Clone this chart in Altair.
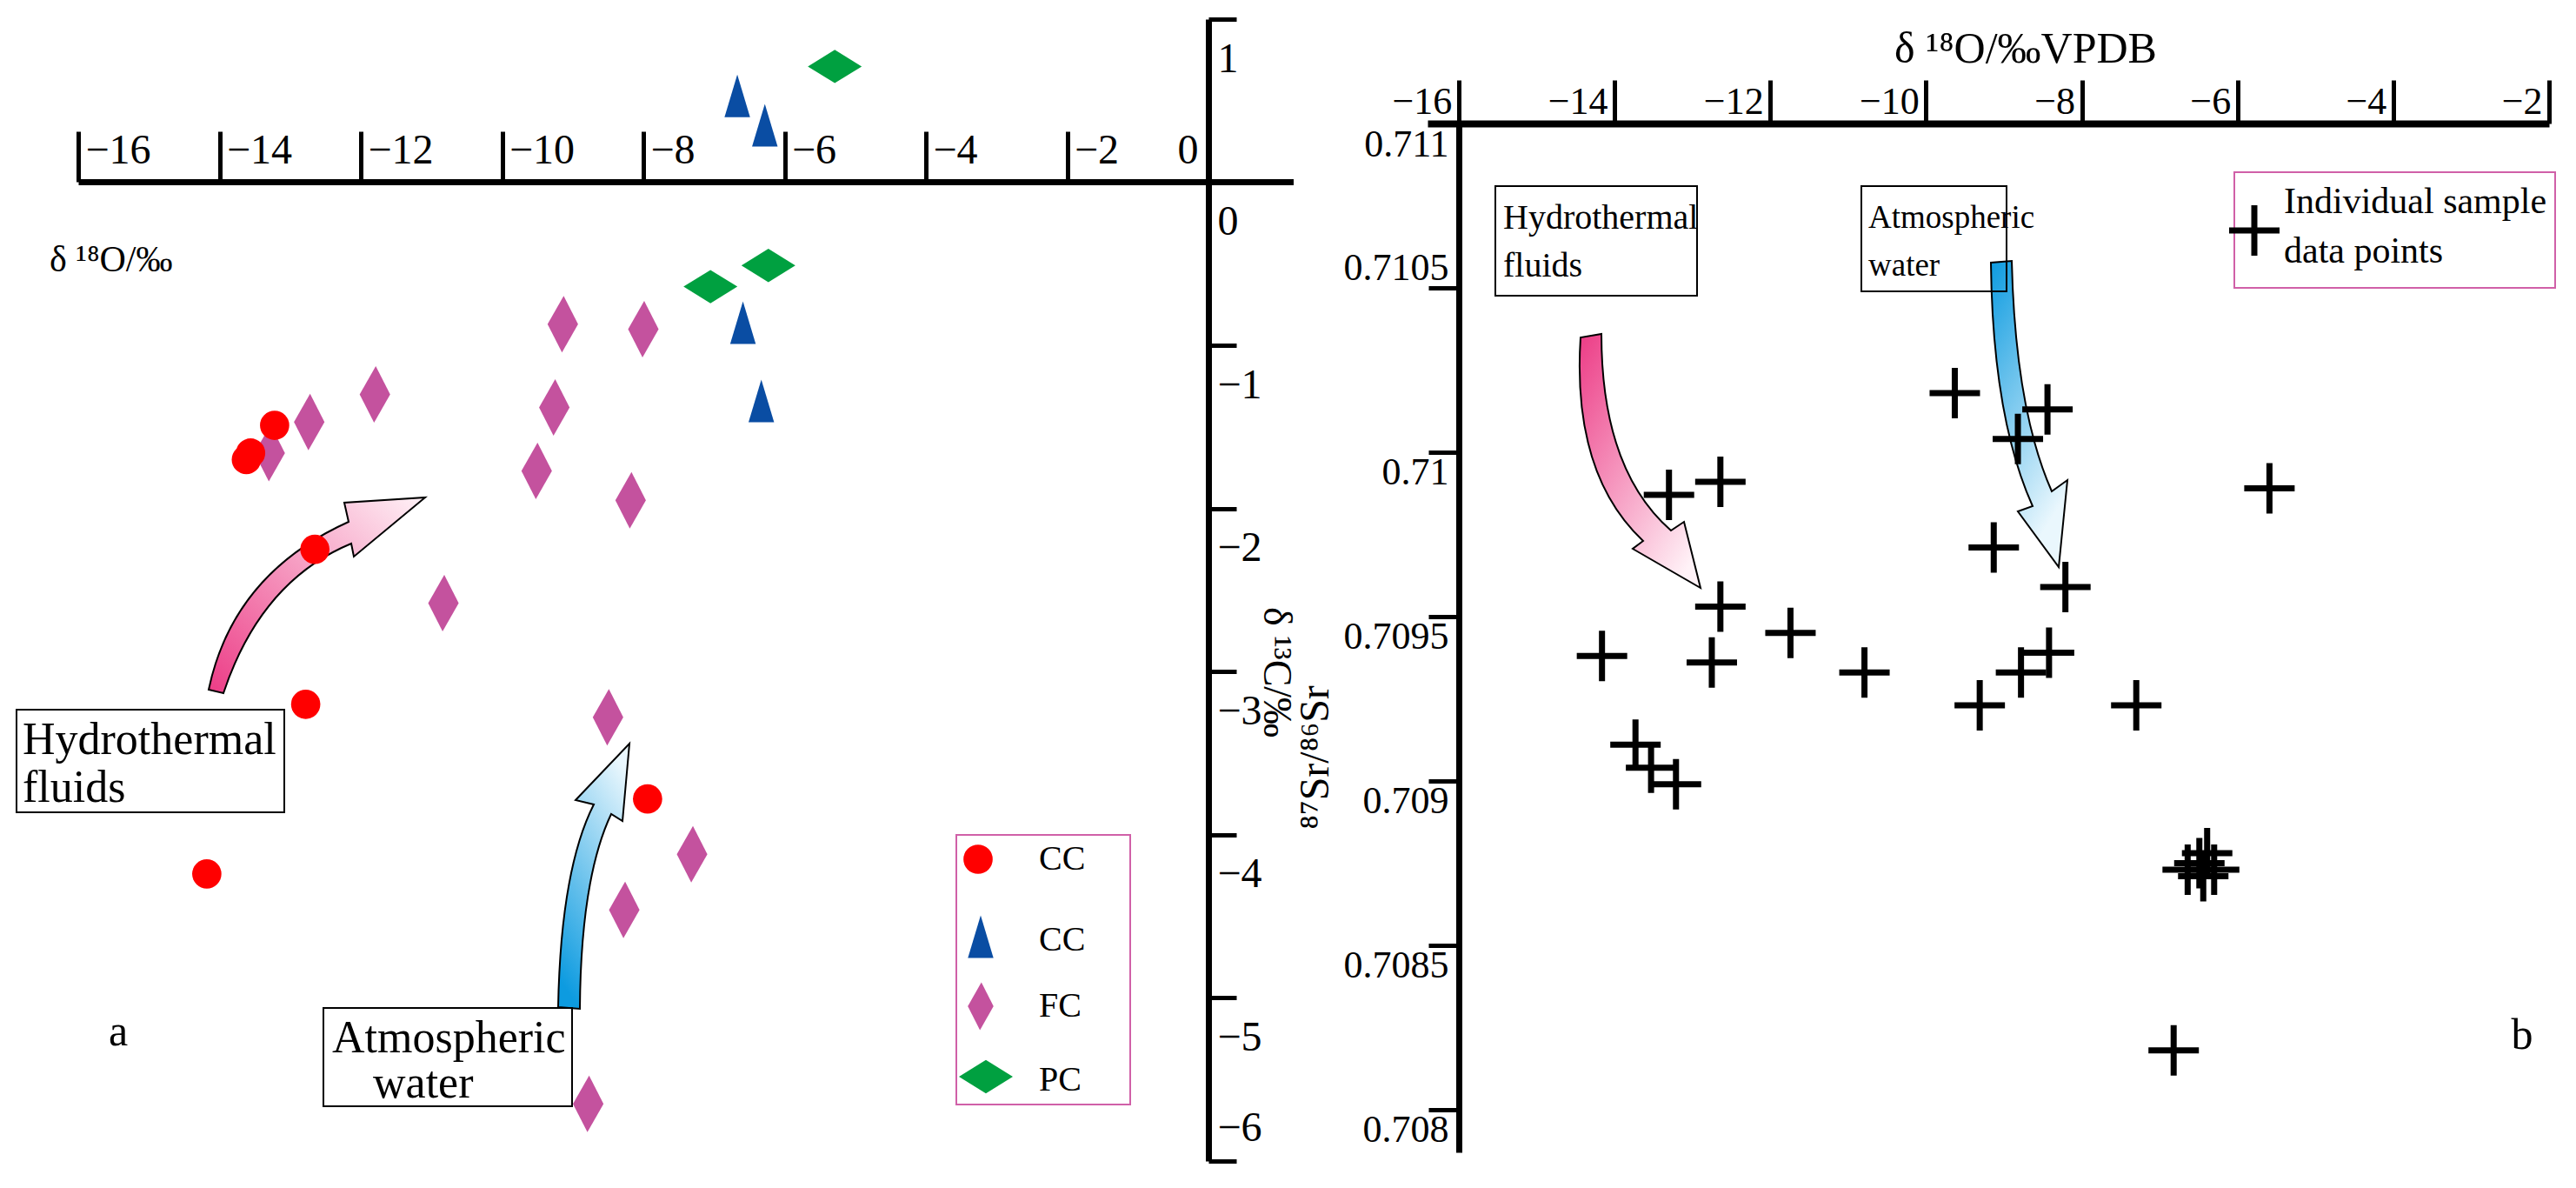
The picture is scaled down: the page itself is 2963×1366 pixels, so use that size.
import altair as alt
import pandas as pd

FONT = "Liberation Serif"

# ---------------- Panel a : delta18O vs delta13C ----------------
cc_circle_o18 = [-13.22, -13.56, -13.62, -12.65, -12.78, -14.18, -7.94]
cc_circle_c13 = [-1.49, -1.66, -1.70, -2.25, -3.20, -4.24, -3.78]
cc_tri_o18 = [-6.67, -6.28, -6.59, -6.33]
cc_tri_c13 = [0.53, 0.35, -0.86, -1.34]
fc_o18 = [-9.14, -8.00, -9.26, -11.80, -12.73, -13.29, -9.51, -8.18, -10.83, -8.50, -7.31, -8.27, -8.78]
fc_c13 = [-0.87, -0.90, -1.38, -1.30, -1.47, -1.66, -1.77, -1.95, -2.58, -3.28, -4.12, -4.46, -5.65]
pc_o18 = [-5.29, -7.05, -6.23]
pc_c13 = [0.71, -0.64, -0.51]

a_xticks = [-16, -14, -12, -10, -8, -6, -4, -2, 0]
a_yticks = [1, 0, -1, -2, -3, -4, -5, -6]

# ---------------- Panel b : delta18O vs 87Sr/86Sr ----------------
sr_o18 = [-9.63, -8.44, -8.82, -13.30, -12.64, -9.13, -8.21, -5.59, -12.64, -11.74,
          -14.16, -12.75, -10.79, -8.42, -8.78, -9.31, -7.30, -13.73, -13.53, -13.21,
          -6.64, -6.49, -6.39, -6.30, -6.44, -6.82]
sr_ratio = [0.71018, 0.71013, 0.71004, 0.70987, 0.70991, 0.70971, 0.70959, 0.70989, 0.70953, 0.70945,
            0.70938, 0.70936, 0.70933, 0.70939, 0.70933, 0.70923, 0.70923, 0.70911, 0.70904, 0.70899,
            0.70873, 0.70875, 0.70878, 0.70873, 0.70871, 0.70818]

b_xticks = [-16, -14, -12, -10, -8, -6, -4, -2]
b_yticks = [0.708, 0.7085, 0.709, 0.7095, 0.71, 0.7105, 0.711]

# ---------------- styles ----------------
RED = "#ff0000"
BLUE = "#0a4da3"
PURPLE = "#c4529e"
GREEN = "#00a040"
LEG = "#d060a8"

TRI = "M0,-1L0.6,1L-0.6,1Z"
FCD = "M0.03,-1L0.54,0L-0.03,1L-0.54,0Z"
PCD = "M-1,0L0,-0.62L1,0L0,0.62Z"
CROSS = "M-1,0L1,0M0,-1L0,1"

W, H = 2947, 1350
one = pd.DataFrame({"k": [0]})

xa = alt.Scale(domain=[-16, 1.2], range=[82, 1479.5], nice=False, zero=False)
ya = alt.Scale(domain=[-6, 1], range=[1327, 14], nice=False, zero=False)
xb = alt.Scale(domain=[-16.4, -2], range=[1634, 2924], nice=False, zero=False)
yb = alt.Scale(domain=[0.70787, 0.711], range=[1317, 134], nice=False, zero=False)

ax_a_x = alt.Axis(
    orient="top", offset=-201, values=a_xticks, title=None, grid=False,
    domainColor="black", domainWidth=7, tickColor="black", tickWidth=5, tickSize=58,
    labelFont=FONT, labelFontSize=48, labelColor="black",
    labelAlign={"condition": {"test": "datum.value == 0", "value": "right"}, "value": "left"},
    labelOffset={"condition": {"test": "datum.value == 0", "value": -12}, "value": 8},
    labelBaseline="middle", labelPadding=-22, labelFlush=False, labelOverlap=False)
ax_a_y = alt.Axis(
    orient="right", offset=1382 - W, values=a_yticks, title=None, grid=False,
    domainColor="black", domainWidth=7, tickColor="black", tickWidth=5, tickSize=32,
    labelFont=FONT, labelFontSize=48, labelColor="black", labelAlign="left",
    labelBaseline="middle", labelPadding=-22,
    labelOffset={"condition": {"test": "datum.value == -6", "value": -38}, "value": 46},
    labelFlush=False, labelOverlap=False)
ax_b_x = alt.Axis(
    orient="top", offset=-134, values=b_xticks, title=None, grid=False,
    domainColor="black", domainWidth=8, tickColor="black", tickWidth=5, tickSize=50,
    labelFont=FONT, labelFontSize=44, labelColor="black", labelAlign="right",
    labelOffset=-8, labelBaseline="middle", labelPadding=-25,
    labelFlush=False, labelOverlap=False)
ax_b_y = alt.Axis(
    orient="left", offset=-1670, values=b_yticks, format=".4~f", title=None, grid=False,
    domainColor="black", domainWidth=7, tickColor="black", tickWidth=5, tickSize=35,
    labelFont=FONT, labelFontSize=44, labelColor="black", labelAlign="right",
    labelBaseline="middle", labelPadding=-23,
    labelOffset={"condition": {"test": "abs(datum.value - 0.7105) < 0.00001", "value": -22}, "value": 24},
    labelFlush=False, labelOverlap=False)


def enc_a(ch):
    return ch.encode(x=alt.X("x:Q", scale=xa, axis=ax_a_x),
                     y=alt.Y("y:Q", scale=ya, axis=ax_a_y))


def enc_b(ch):
    return ch.encode(x=alt.X("x:Q", scale=xb, axis=ax_b_x),
                     y=alt.Y("y:Q", scale=yb, axis=ax_b_y))


def txt(s, x, y, size, align="left", angle=0):
    kw = dict(font=FONT, fontSize=size, align=align, baseline="middle", color="black")
    if angle:
        kw["angle"] = angle
    return alt.Chart(one).mark_text(**kw).encode(
        x=alt.value(x), y=alt.value(y), text=alt.value(s))


def box(x1, y1, x2, y2, color="black", sw=2):
    return alt.Chart(one).mark_rect(fill="white", fillOpacity=0, stroke=color, strokeWidth=sw).encode(
        x=alt.value(x1), x2=alt.value(x2), y=alt.value(y1), y2=alt.value(y2))


def sym(shape, size, x, y, color):
    return alt.Chart(one).mark_point(shape=shape, size=size, filled=True, fill=color,
                                     opacity=1, strokeWidth=0).encode(
        x=alt.value(x), y=alt.value(y))


def arrow(cmds, stops, x1, y1, x2, y2):
    pts = []
    for c in cmds:
        for i in range(1, len(c), 2):
            pts.append((c[i], c[i + 1]))
    xs = [p[0] for p in pts]
    ys = [p[1] for p in pts]
    cx = (min(xs) + max(xs)) / 2
    cy = (min(ys) + max(ys)) / 2
    parts = []
    for c in cmds:
        co = [f"{(c[i] - cx) / 100:.3f},{(c[i + 1] - cy) / 100:.3f}" for i in range(1, len(c), 2)]
        parts.append(c[0] + " ".join(co))
    path = "".join(parts)
    grad = {"gradient": "linear", "x1": x1, "y1": y1, "x2": x2, "y2": y2,
            "stops": [{"offset": 0, "color": stops[0]}, {"offset": 1, "color": stops[1]}]}
    return alt.Chart(one).mark_point(shape=path, size=40000, filled=True, fill=grad,
                                     stroke="black", strokeWidth=2, opacity=1).encode(
        x=alt.value(cx - 8), y=alt.value(cy - 8))


PINK = ("#ec3c86", "#fff2f7")
SKY = ("#0d9be0", "#eaf7fd")

# arrow outlines in image pixels
arr_a_hydro = [("M", 240, 793), ("Q", 268, 660, 401, 600), ("L", 396, 578), ("L", 489, 572),
               ("L", 407, 640), ("L", 404, 625), ("Q", 300, 668, 257, 797), ("Z",)]
arr_a_atm = [("M", 642, 1158), ("Q", 645, 1000, 683, 925), ("L", 662, 920), ("L", 724, 855),
             ("L", 716, 944), ("L", 703, 936), ("Q", 668, 1010, 667, 1160), ("Z",)]
arr_b_hydro = [("M", 1818, 388), ("Q", 1808, 545, 1890, 622), ("L", 1878, 631), ("L", 1956, 676),
               ("L", 1937, 600), ("L", 1922, 610), ("Q", 1842, 540, 1842, 384), ("Z",)]
arr_b_atm = [("M", 2290, 302), ("Q", 2292, 480, 2338, 582), ("L", 2321, 588), ("L", 2368, 652),
             ("L", 2378, 552), ("L", 2360, 565), ("Q", 2318, 470, 2314, 300), ("Z",)]

# ---------------- panel a layers ----------------
df_fc = pd.DataFrame({"x": fc_o18, "y": fc_c13})
df_cc1 = pd.DataFrame({"x": cc_circle_o18, "y": cc_circle_c13})
df_cc2 = pd.DataFrame({"x": cc_tri_o18, "y": cc_tri_c13})
df_pc = pd.DataFrame({"x": pc_o18, "y": pc_c13})

a_layers = [
    arrow(arr_a_hydro, PINK, 0, 1, 1, 0),
    arrow(arr_a_atm, SKY, 0.3, 1, 0.7, 0),
    enc_a(alt.Chart(df_fc).mark_point(shape=FCD, size=4225, filled=True, fill=PURPLE, opacity=1, strokeWidth=0)),
    enc_a(alt.Chart(df_cc1).mark_point(shape="circle", size=1134, filled=True, fill=RED, opacity=1, strokeWidth=0)),
    enc_a(alt.Chart(df_cc2).mark_point(shape=TRI, size=2401, filled=True, fill=BLUE, opacity=1, strokeWidth=0)),
    enc_a(alt.Chart(df_pc).mark_point(shape=PCD, size=3844, filled=True, fill=GREEN, opacity=1, strokeWidth=0)),
    txt("δ ¹⁸O/‰", 49, 291, 42),
    txt("δ ¹³C/‰", 1460, 765, 46, "center", 90),
    txt("a", 128, 1179, 50, "center"),
    box(11, 808, 319, 926),
    txt("Hydrothermal", 18, 843, 52),
    txt("fluids", 18, 898, 52),
    box(364, 1151, 650, 1264),
    txt("Atmospheric", 374, 1186, 52),
    txt("water", 421, 1238, 52),
    box(1092, 952, 1292, 1262, LEG, 2),
    sym("circle", 1134, 1117, 980, RED),
    sym(TRI, 2401, 1120, 1069, BLUE),
    sym(FCD, 3000, 1120, 1149, PURPLE),
    sym(PCD, 3844, 1126, 1230, GREEN),
    txt("CC", 1187, 980, 40),
    txt("CC", 1187, 1073, 40),
    txt("FC", 1187, 1149, 40),
    txt("PC", 1187, 1234, 40),
]

# ---------------- panel b layers ----------------
df_sr = pd.DataFrame({"x": sr_o18, "y": sr_ratio})

b_layers = [
    arrow(arr_b_hydro, PINK, 0, 0, 0.8, 1),
    arrow(arr_b_atm, SKY, 0, 0, 0.4, 1),
    enc_b(alt.Chart(df_sr).mark_point(shape=CROSS, size=3364, filled=False, stroke="black",
                                      strokeWidth=7, opacity=1)),
    txt("δ ¹⁸O/‰VPDB", 2322, 49, 50, "center"),
    txt("⁸⁷Sr/⁸⁶Sr", 1506, 863, 48, "center", 270),
    txt("b", 2893, 1183, 50, "center"),
    box(1712, 206, 1944, 332),
    txt("Hydrothermal", 1721, 243, 40),
    txt("fluids", 1721, 298, 40),
    box(2133, 206, 2300, 327),
    txt("Atmospheric", 2141, 243, 37),
    txt("water", 2141, 298, 37),
    box(2562, 190, 2931, 323, LEG, 2),
    alt.Chart(one).mark_point(shape=CROSS, size=3364, filled=False, stroke="black",
                              strokeWidth=7, opacity=1).encode(x=alt.value(2585), y=alt.value(257)),
    txt("Individual sample", 2619, 224, 42),
    txt("data points", 2619, 281, 42),
]

panel_a = alt.layer(*a_layers)
panel_b = alt.layer(*b_layers)

chart = (
    alt.layer(panel_a, panel_b)
    .resolve_scale(x="independent", y="independent")
    .resolve_axis(x="independent", y="independent")
    .properties(width=W, height=H, padding=0,
                autosize=alt.AutoSizeParams(type="none"))
    .configure_view(strokeWidth=0)
)

chart.save("out.html", embed_options={"renderer": "svg", "actions": False})
